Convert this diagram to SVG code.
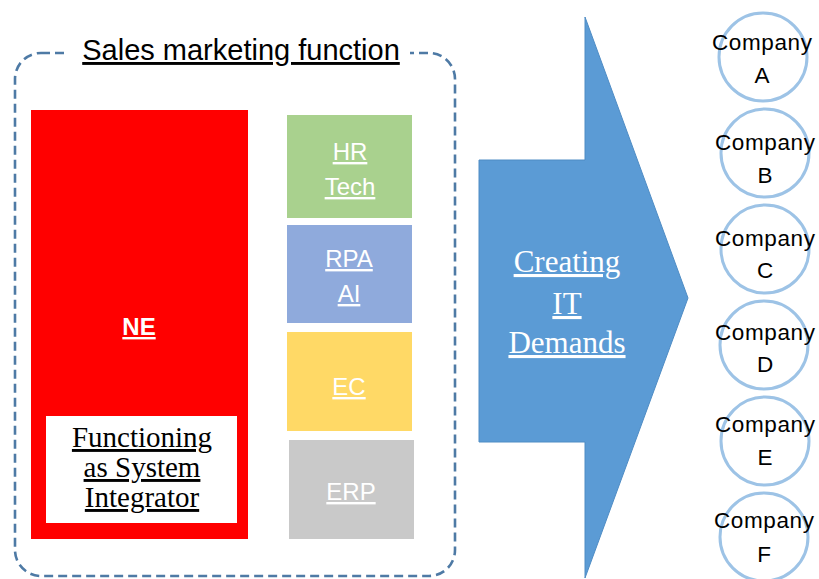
<svg xmlns="http://www.w3.org/2000/svg" width="819" height="579" viewBox="0 0 819 579">
  <style>
    .sans { font-family: "Liberation Sans", Arial, sans-serif; }
    .serif { font-family: "Liberation Serif", "Times New Roman", serif; }
    .ul { text-decoration: underline; }
    .lbl { fill: #ffffff; font-size: 24px; text-anchor: middle; }
    .co { fill: #000000; font-size: 22.5px; text-anchor: middle; }
    .circ { fill: #ffffff; stroke: #9dc3e6; stroke-width: 3; }
  </style>

  <rect width="819" height="579" fill="#ffffff"/>

  <!-- dashed frame around the function group -->
  <g id="frame">
    <rect x="15" y="53" width="440" height="523" rx="26" ry="26" fill="none" stroke="#4e7aa5" stroke-width="2.6" stroke-dasharray="9,5"/>
    <rect x="68" y="40" width="342" height="26" fill="#ffffff"/>
    <text class="sans ul" x="241" y="60" font-size="29" text-anchor="middle" fill="#000000">Sales marketing function</text>
  </g>

  <g id="ne">
    <rect x="31" y="110" width="217" height="429" fill="#ff0000"/>
    <text class="sans ul lbl" x="139" y="335" font-weight="bold" font-size="22">NE</text>
    <rect x="46" y="416" width="191" height="107" fill="#ffffff"/>
    <text class="serif ul" x="142" y="447" font-size="29" text-anchor="middle" fill="#000000">Functioning</text>
    <text class="serif ul" x="142" y="477" font-size="29" text-anchor="middle" fill="#000000">as System</text>
    <text class="serif ul" x="142" y="507" font-size="29" text-anchor="middle" fill="#000000">Integrator</text>
  </g>

  <g id="hr-tech">
    <rect x="287" y="115" width="125" height="103" fill="#a9d18e"/>
    <text class="sans ul lbl" x="350" y="160">HR</text>
    <text class="sans ul lbl" x="350" y="195">Tech</text>
  </g>

  <g id="rpa-ai">
    <rect x="287" y="225" width="125" height="98" fill="#8faadc"/>
    <text class="sans ul lbl" x="349" y="267">RPA</text>
    <text class="sans ul lbl" x="349" y="302">AI</text>
  </g>

  <g id="ec">
    <rect x="287" y="332" width="125" height="99" fill="#ffd966"/>
    <text class="sans ul lbl" x="349" y="395">EC</text>
  </g>

  <g id="erp">
    <rect x="289" y="440" width="125" height="99" fill="#c9c9c9"/>
    <text class="sans ul lbl" x="351" y="500">ERP</text>
  </g>

  <!-- big block arrow -->
  <g id="it-demands">
    <polygon points="479,160 585,160 585,17 688,298 585,578 585,442 479,442" fill="#5b9bd5" stroke="#4f8cc4" stroke-width="1"/>
    <text class="serif ul" x="567" y="272" font-size="31" text-anchor="middle" fill="#ffffff">Creating</text>
    <text class="serif ul" x="567" y="314" font-size="31" text-anchor="middle" fill="#ffffff">IT</text>
    <text class="serif ul" x="567" y="353" font-size="31" text-anchor="middle" fill="#ffffff">Demands</text>
  </g>

  <g id="companies">
    <g id="company-a">
      <circle class="circ" cx="763" cy="57" r="44"/>
      <text class="sans co" x="762" y="50" textLength="100">Company</text>
      <text class="sans co" x="762" y="83">A</text>
    </g>
    <g id="company-b">
      <circle class="circ" cx="765" cy="153" r="44"/>
      <text class="sans co" x="765" y="150" textLength="100">Company</text>
      <text class="sans co" x="765" y="183">B</text>
    </g>
    <g id="company-c">
      <circle class="circ" cx="765" cy="249" r="44"/>
      <text class="sans co" x="765" y="246" textLength="100">Company</text>
      <text class="sans co" x="765" y="278">C</text>
    </g>
    <g id="company-d">
      <circle class="circ" cx="764" cy="345" r="44"/>
      <text class="sans co" x="765" y="340" textLength="100">Company</text>
      <text class="sans co" x="765" y="372">D</text>
    </g>
    <g id="company-e">
      <circle class="circ" cx="765" cy="441" r="44"/>
      <text class="sans co" x="765" y="432" textLength="100">Company</text>
      <text class="sans co" x="765" y="465">E</text>
    </g>
    <g id="company-f">
      <circle class="circ" cx="764" cy="537" r="44"/>
      <text class="sans co" x="764" y="528" textLength="100">Company</text>
      <text class="sans co" x="764" y="562">F</text>
    </g>
  </g>
</svg>
